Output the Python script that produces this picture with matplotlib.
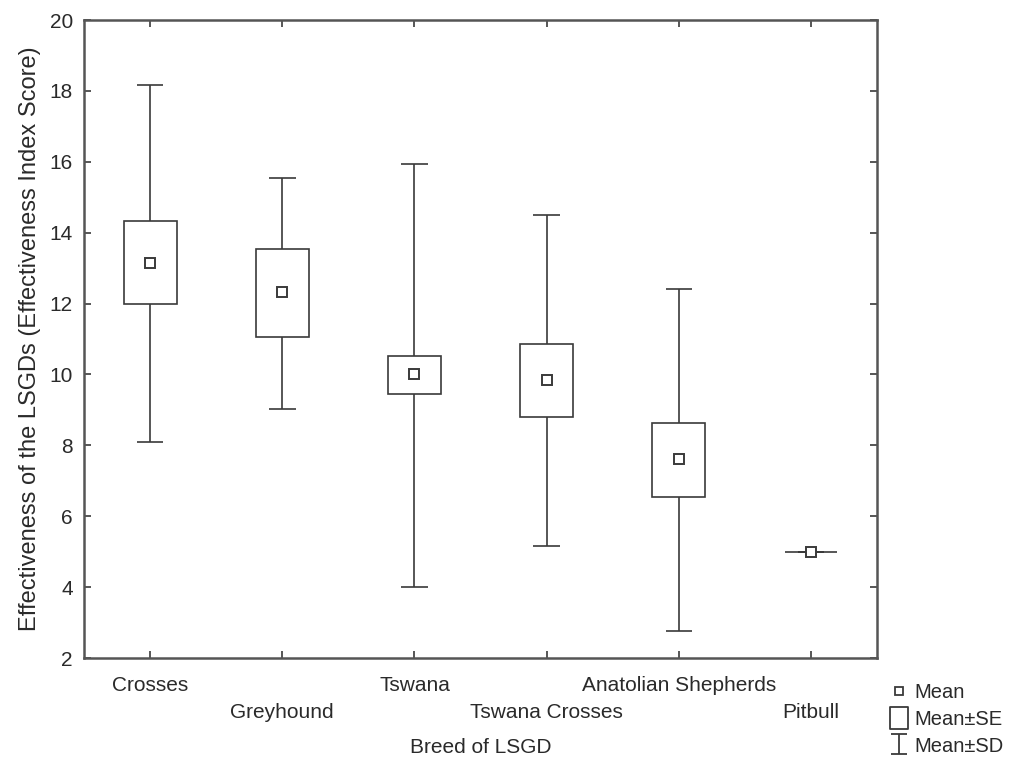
import matplotlib
matplotlib.use("Agg")
import matplotlib.pyplot as plt
from matplotlib.patches import Rectangle
from matplotlib.lines import Line2D
from matplotlib.path import Path

plt.rcParams['font.family'] = ['Liberation Sans', 'DejaVu Sans']

# breed summary: mean, mean +/- SE, mean +/- SD
breeds = ['Crosses', 'Greyhound', 'Tswana', 'Tswana Crosses',
          'Anatolian Shepherds', 'Pitbull']
mean = [13.15, 12.33, 10.0, 9.85, 7.62, 5.0]
se_lo = [12.0, 11.07, 9.45, 8.8, 6.55, 5.0]
se_hi = [14.32, 13.55, 10.52, 10.87, 8.62, 5.0]
sd_lo = [8.1, 9.02, 4.0, 5.15, 2.75, 5.0]
sd_hi = [18.18, 15.55, 15.95, 14.5, 12.42, 5.0]

ink = '#3a3a3a'
txt = '#2a2a2a'
fs = 15

fig = plt.figure(figsize=(10.09, 7.58), dpi=100)
ax = fig.add_axes([0.0833, 0.1319, 0.7859, 0.8417])

box_w = 0.4
cap_w = 0.2
for i, name in enumerate(breeds):
    x = i + 1
    ax.vlines(x, sd_lo[i], sd_hi[i], color=ink, lw=1.2, zorder=2)
    ax.hlines([sd_lo[i], sd_hi[i]], x - cap_w / 2, x + cap_w / 2,
              color=ink, lw=1.2, zorder=2)
    ax.add_patch(Rectangle((x - box_w / 2, se_lo[i]), box_w, se_hi[i] - se_lo[i],
                           facecolor='white', edgecolor=ink, lw=1.2, zorder=3))
    ax.plot(x, mean[i], marker='s', ms=7, mfc='white', mec=ink, mew=1.4,
            zorder=4)

ax.set_xlim(0.5, 6.5)
ax.set_ylim(2, 20)
ax.set_yticks(range(2, 21, 2))
ax.set_xticks(range(1, 7))
# every second breed name drops to a second row
ax.set_xticklabels([b if i % 2 == 0 else '\n' + b for i, b in enumerate(breeds)],
                   linespacing=1.55)
ax.tick_params(direction='in', length=5, width=1.2, color=ink,
               top=True, right=True, labelsize=fs, labelcolor=txt)
ax.tick_params(axis='x', pad=13)
ax.tick_params(axis='y', pad=8)
for s in ax.spines.values():
    s.set_linewidth(1.8)
    s.set_color('#555555')

ax.set_xlabel('Breed of LSGD', fontsize=fs, color=txt, labelpad=11)
ax.set_ylabel('Effectiveness of the LSGDs (Effectiveness Index Score)',
              fontsize=17, color=txt, labelpad=6)

# legend symbols
se_mark = Path([(-0.4, -0.5), (0.4, -0.5), (0.4, 0.5), (-0.4, 0.5), (-0.4, -0.5)],
               [Path.MOVETO, Path.LINETO, Path.LINETO, Path.LINETO, Path.CLOSEPOLY])
sd_mark = Path([(-0.4, 0.5), (0.4, 0.5), (0, 0.5), (0, -0.5), (-0.4, -0.5), (0.4, -0.5)],
               [Path.MOVETO, Path.LINETO, Path.MOVETO, Path.LINETO,
                Path.MOVETO, Path.LINETO])
handles = [
    Line2D([], [], ls='none', marker='s', ms=6, mfc='white', mec=ink, mew=1.3),
    Line2D([], [], ls='none', marker=se_mark, ms=16, mfc='white', mec=ink, mew=1.3),
    Line2D([], [], ls='none', marker=sd_mark, ms=15, mec=ink, mew=1.3),
]
fig.legend(handles, ['Mean', 'Mean±SE', 'Mean±SD'], loc='lower right',
           bbox_to_anchor=(1.008, -0.014), frameon=False, fontsize=14.5,
           labelcolor=txt, handlelength=0.9, handletextpad=0.35,
           labelspacing=0.38, borderaxespad=0.25)

fig.savefig('out.png', dpi=100)
